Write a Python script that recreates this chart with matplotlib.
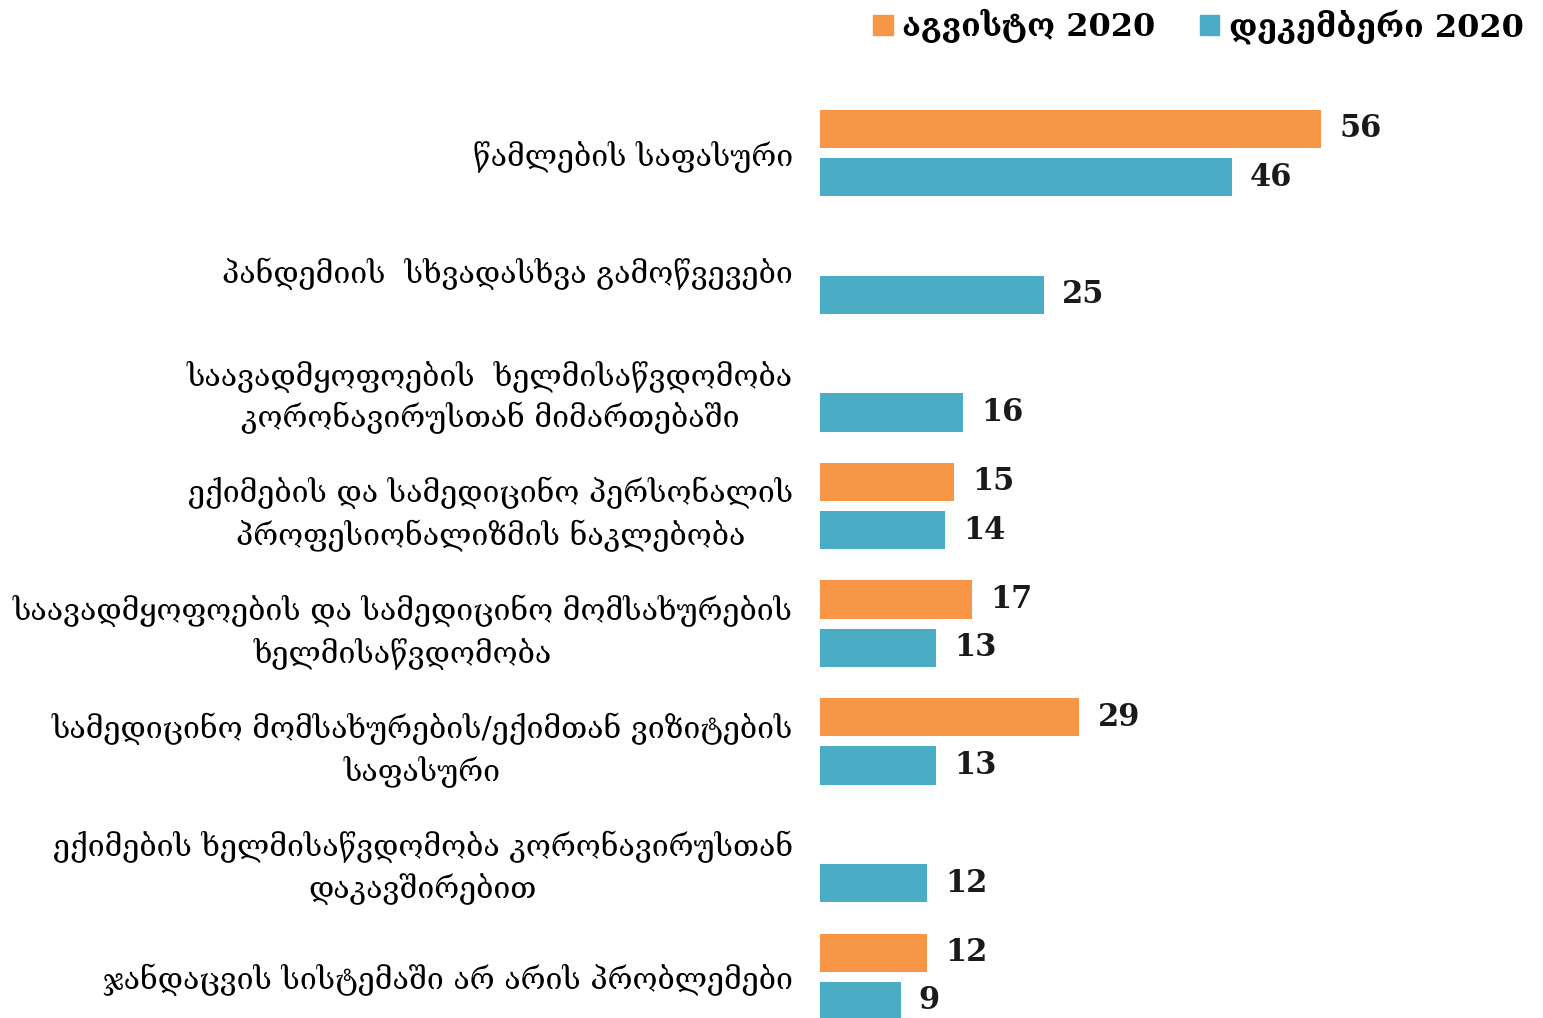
import matplotlib
matplotlib.use("Agg")
import matplotlib.pyplot as plt
from matplotlib.patches import Patch
import numpy as np

plt.rcParams['font.family'] = ['DejaVu Serif', 'DejaVu Sans']

categories = [
    "წამლების საფასური",
    "პანდემიის  სხვადასხვა გამოწვევები",
    "საავადმყოფოების  ხელმისაწვდომობა\nკორონავირუსთან მიმართებაში",
    "ექიმების და სამედიცინო პერსონალის\nპროფესიონალიზმის ნაკლებობა",
    "საავადმყოფოების და სამედიცინო მომსახურების\nხელმისაწვდომობა",
    "სამედიცინო მომსახურების/ექიმთან ვიზიტების\nსაფასური",
    "ექიმების ხელმისაწვდომობა კორონავირუსთან\nდაკავშირებით",
    "ჯანდაცვის სისტემაში არ არის პრობლემები",
]
series_names = ["აგვისტო 2020", "დეკემბერი 2020"]
august = [56, None, None, 15, 17, 29, None, 12]
december = [46, 25, 16, 14, 13, 13, 12, 9]

orange = "#F79646"
blue = "#4BACC6"

fig = plt.figure(figsize=(15.43, 10.18), dpi=100)
ax = fig.add_axes([820 / 1543, 0.0, 680 / 1543, 1 - 80 / 1018])

y = np.arange(len(categories))
off = 0.205
h = 0.325

for vals, dy, col in [(august, -off, orange), (december, off, blue)]:
    for i, v in enumerate(vals):
        if v is None:
            continue
        ax.barh(y[i] + dy, v, height=h, color=col)
        ax.annotate(str(v), (v, y[i] + dy), xytext=(13, 0),
                    textcoords='offset points', va='center', ha='left',
                    fontsize=22, fontweight='bold', color='#1a1a1a')

ax.set_xlim(0, 76)
ax.set_ylim(7.35, -0.62)
ax.set_yticks(y)
ax.set_yticklabels(categories, fontsize=21.8, ha='center', multialignment='center',
                   linespacing=1.4, family=['DejaVu Serif', 'DejaVu Sans'])
ax.tick_params(axis='y', length=0, pad=0)
ax.set_xticks([])
for s in ax.spines.values():
    s.set_visible(False)

# place labels: right edge at ~793px, centered block
fig.canvas.draw()
renderer = fig.canvas.get_renderer()
for lab in ax.get_yticklabels():
    bb = lab.get_window_extent(renderer)
    w = bb.width
    lab.set_x(-(27 + w / 2) / 680)
    lab.set_transform(ax.get_yaxis_transform())

handles = [Patch(color=orange), Patch(color=blue)]
fig.legend(handles, series_names, loc='upper right', bbox_to_anchor=(1.0, 1.01),
           ncol=2, frameon=False, handlelength=0.6, handleheight=0.6,
           handletextpad=0.3, columnspacing=1.4, borderaxespad=0.2,
           prop={'size': 23, 'weight': 'bold', 'family': ['DejaVu Serif', 'DejaVu Sans']})

fig.savefig("out.png", dpi=100)
